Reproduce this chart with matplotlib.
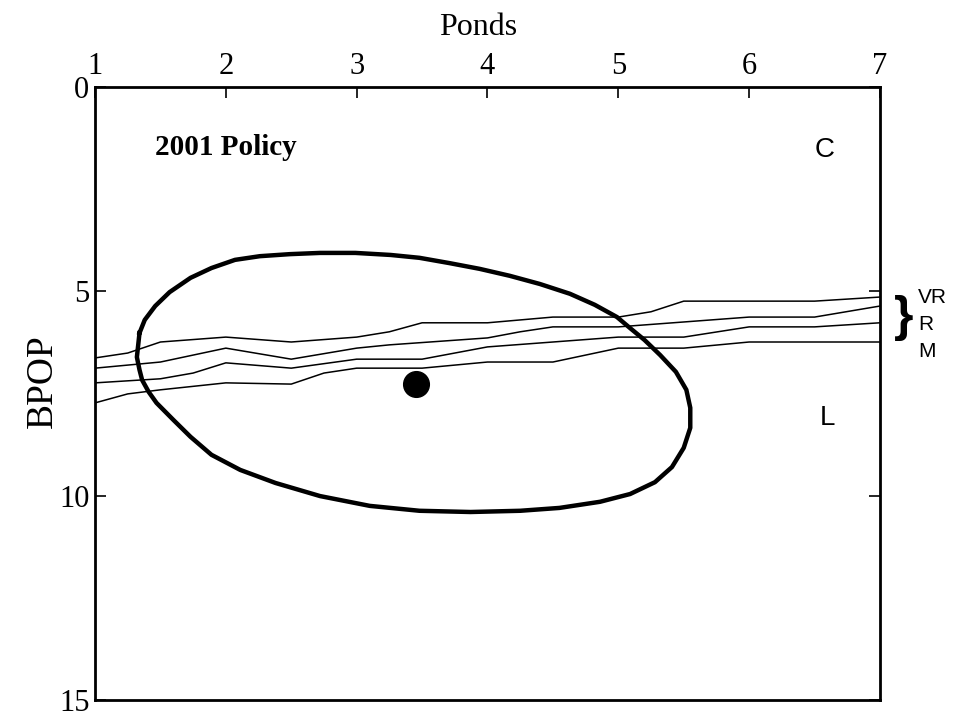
import matplotlib
matplotlib.use("Agg")
import matplotlib.pyplot as plt
import numpy as np

# boundary lines (Ponds, BPOP)
x_vr = [1.0, 1.25, 1.5, 2.0, 2.5, 3.0, 3.25, 3.5, 4.0, 4.5, 5.0, 5.25, 5.5, 6.5, 7.0]
y_vr = [6.63, 6.51, 6.24, 6.12, 6.24, 6.12, 5.99, 5.77, 5.77, 5.63, 5.63, 5.50, 5.24, 5.24, 5.14]

x_r = [1.0, 1.5, 2.0, 2.5, 3.0, 3.25, 4.0, 4.25, 4.5, 5.0, 6.0, 6.5, 7.0]
y_r = [6.88, 6.73, 6.39, 6.66, 6.39, 6.31, 6.14, 5.99, 5.87, 5.87, 5.63, 5.63, 5.36]

x_m = [1.0, 1.5, 1.75, 2.0, 2.5, 3.0, 3.5, 4.0, 4.5, 5.0, 5.5, 6.0, 6.5, 7.0]
y_m = [7.24, 7.14, 7.00, 6.75, 6.88, 6.66, 6.66, 6.36, 6.24, 6.12, 6.12, 5.87, 5.87, 5.77]

x_low = [1.0, 1.25, 1.5, 2.0, 2.5, 2.75, 3.0, 3.5, 4.0, 4.5, 5.0, 5.5, 6.0, 7.0]
y_low = [7.73, 7.51, 7.41, 7.24, 7.27, 7.00, 6.88, 6.88, 6.73, 6.73, 6.39, 6.39, 6.24, 6.24]

# confidence ellipse outline, traced
ell_x = [1.34, 1.32, 1.34, 1.36, 1.41, 1.47, 1.60, 1.73, 1.89, 2.11, 2.38, 2.72,
         3.10, 3.48, 3.87, 4.25, 4.55, 4.86, 5.09, 5.28, 5.41, 5.50, 5.55, 5.55,
         5.52, 5.44, 5.32, 5.20, 5.09, 4.99, 4.82, 4.63, 4.40, 4.17, 3.94, 3.71,
         3.48, 3.26, 2.99, 2.72, 2.49, 2.26, 2.07, 1.89, 1.73, 1.57, 1.46, 1.38, 1.34]
ell_y = [6.02, 6.61, 6.92, 7.17, 7.46, 7.73, 8.15, 8.56, 9.00, 9.37, 9.69, 10.01,
         10.25, 10.37, 10.40, 10.37, 10.30, 10.15, 9.96, 9.67, 9.30, 8.83, 8.34, 7.85,
         7.41, 6.97, 6.56, 6.19, 5.90, 5.63, 5.33, 5.06, 4.82, 4.62, 4.45, 4.31,
         4.18, 4.11, 4.06, 4.06, 4.09, 4.14, 4.23, 4.43, 4.67, 5.02, 5.36, 5.70, 6.02]

policy_x = [3.45]
policy_y = [7.27]

serif = "Liberation Serif"
sans = "Liberation Sans"

fig = plt.figure(figsize=(9.54, 7.25), dpi=100)
ax = fig.add_axes([0.0996, 0.0345, 0.8228, 0.8455])

for xs, ys in [(x_vr, y_vr), (x_r, y_r), (x_m, y_m), (x_low, y_low)]:
    ax.plot(xs, ys, color="black", lw=1.1)

ax.plot(ell_x, ell_y, color="black", lw=3.2, solid_joinstyle="round")
ax.plot(policy_x, policy_y, "o", color="black", markersize=18.5)

ax.set_xlim(1, 7)
ax.set_ylim(15, 0)
ax.set_xticks(range(1, 8))
ax.set_yticks([0, 5, 10, 15])
ax.xaxis.tick_top()
ax.tick_params(axis="both", direction="in", length=8, width=1.2,
               labelsize=22, pad=4)
ax.tick_params(axis="y", right=True)
for lab in ax.get_xticklabels() + ax.get_yticklabels():
    lab.set_family(serif)
for s in ax.spines.values():
    s.set_linewidth(2.0)

ax.xaxis.set_label_position("top")
ax.set_xlabel("Ponds", family=serif, fontsize=23)
ax.xaxis.set_label_coords(0.488, 1.085)
ax.set_ylabel("BPOP", family=serif, fontsize=27)
ax.yaxis.set_label_coords(-0.045, 0.52)

ax.text(1.46, 1.49, "2001 Policy", family=serif, fontsize=21,
        fontweight="bold", va="center", ha="left")
ax.text(6.5, 1.54, "C", family=sans, fontsize=20, va="center", ha="left")
ax.text(6.54, 8.1, "L", family=sans, fontsize=20, va="center", ha="left")

ax.text(7.11, 5.66, "}", family=sans, fontsize=36, fontweight="bold",
        va="center", ha="left", clip_on=False)
ax.text(7.29, 5.16, "VR", family=sans, fontsize=15, va="center", ha="left",
        clip_on=False)
ax.text(7.29, 5.82, "R", family=sans, fontsize=15, va="center", ha="left",
        clip_on=False)
ax.text(7.29, 6.48, "M", family=sans, fontsize=15, va="center", ha="left",
        clip_on=False)

fig.savefig("out.png", dpi=100)
